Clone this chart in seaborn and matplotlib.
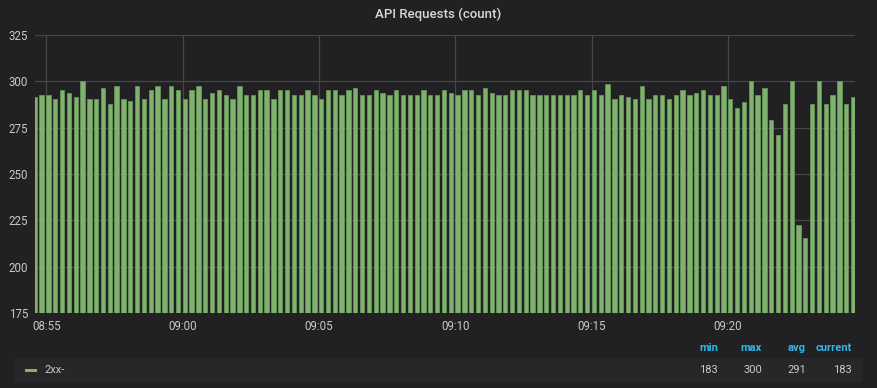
import numpy as np
import pandas as pd
import seaborn as sns
import matplotlib.pyplot as plt
from matplotlib.patches import Rectangle

# request counts, one bar every 15 s starting 08:54:30
times = pd.date_range(start="2024-01-01 08:54:30", periods=121, freq="15s")
counts = [
    291.4, 292.6, 292.6, 290.5, 295.1, 293.9, 291.4, 300.0, 290.5, 290.5,
    296.3, 287.9, 297.5, 290.5, 289.2, 297.5, 290.5, 295.1, 297.5, 290.5,
    297.5, 295.1, 290.5, 295.1, 297.5, 290.5, 293.9, 295.1, 292.6, 290.5,
    297.5, 292.6, 292.6, 295.1, 295.1, 290.5, 295.1, 295.1, 292.6, 292.6,
    295.1, 292.6, 290.5, 295.1, 295.1, 292.6, 295.1, 296.3, 292.6, 292.6,
    295.1, 293.9, 292.6, 295.1, 292.6, 292.6, 292.6, 295.1, 292.6, 292.6,
    295.1, 293.9, 292.6, 295.1, 295.1, 292.6, 296.3, 293.9, 292.6, 292.6,
    295.1, 295.1, 295.1, 292.6, 292.6, 292.6, 292.6, 292.6, 292.6, 292.6,
    295.1, 292.6, 295.1, 292.6, 298.7, 290.5, 292.6, 291.4, 290.5, 297.5,
    290.5, 292.6, 292.6, 290.5, 292.6, 295.1, 292.6, 293.9, 295.1, 292.6,
    292.6, 297.5, 290.5, 285.5, 289.1, 300.0, 292.6, 296.3, 279.4, 271.0,
    287.8, 300.0, 222.6, 215.6, 287.8, 300.0, 287.8, 292.6, 300.0, 287.8,
    291.4,
]
tick_labels = ["08:55", "09:00", "09:05", "09:10", "09:15", "09:20"]
y_ticks = [175, 200, 225, 250, 275, 300, 325]
legend_cols = ["min", "max", "avg", "current"]
legend_vals = ["183", "300", "291", "183"]

bg = "#212124"
txt = "#c8c9ca"
grid = "#47474a"
green = "#7EB26D"

# minutes after 08:55, bars are left aligned on their timestamp
t0 = pd.Timestamp("2024-01-01 08:55:00")
minutes = (times - t0).total_seconds() / 60
bar_w = 0.63
df = pd.DataFrame({"t": minutes + bar_w * 0.25 / 2, "count": counts})

sns.set_style("dark")
plt.rcParams["font.family"] = ["Roboto", "DejaVu Sans"]

fig = plt.figure(figsize=(8.77, 3.88), dpi=100, facecolor=bg)
ax = fig.add_axes([35 / 877, 1 - 313 / 388, 820 / 877, 278 / 388])
ax.set_facecolor(bg)

sns.barplot(data=df, x="t", y="count", native_scale=True, width=bar_w,
            color=green, saturation=1, edgecolor="#6c9a5c", linewidth=0.5,
            errorbar=None, ax=ax, zorder=3)

ax.set_xlim(-0.414, 29.65)
ax.set_ylim(175, 325)
ax.set_xticks([0, 5, 10, 15, 20, 25])
ax.set_xticklabels(tick_labels)
ax.set_yticks(y_ticks)
ax.grid(True, color=grid, linewidth=0.9, zorder=0)
ax.set_axisbelow(True)
for s in ax.spines.values():
    s.set_visible(False)
ax.tick_params(colors=txt, labelsize=8.3, length=0, pad=5)
ax.set_xlabel("")
ax.set_ylabel("")

fig.text(438 / 877, 1 - 14 / 388, "API Requests (count)", color="#d8d9da",
         fontsize=9.5, ha="center", va="center", fontweight="medium")

# legend table
fig.patches.append(Rectangle((15 / 877, 1 - 382 / 388), 847 / 877, 24 / 388,
                             transform=fig.transFigure, facecolor="#27272a",
                             edgecolor="none", zorder=0))
fig.patches.append(Rectangle((25 / 877, 1 - 371.5 / 388), 12 / 877, 3 / 388,
                             transform=fig.transFigure, facecolor=green,
                             edgecolor="none", zorder=1))
fig.text(44 / 877, 1 - 370 / 388, "2xx-", color=txt, fontsize=8, va="center")
right_edges = [718, 762, 806, 852]
for name, val, xr in zip(legend_cols, legend_vals, right_edges):
    fig.text(xr / 877, 1 - 348 / 388, name, color="#33b5e5", fontsize=8,
             ha="right", va="center", fontweight="bold")
    fig.text(xr / 877, 1 - 370 / 388, val, color=txt, fontsize=8,
             ha="right", va="center")

fig.savefig("out.png", dpi=100, facecolor=bg)
